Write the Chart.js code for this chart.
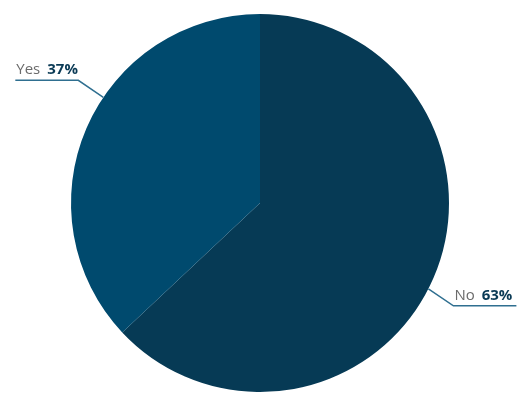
<!DOCTYPE html>
<html>
<head>
<meta charset="utf-8">
<script src="https://cdn.jsdelivr.net/npm/chart.js@4/dist/chart.umd.min.js"></script>
<style>
html,body{margin:0;padding:0;background:#fff;}
#wrap{width:530px;height:407px;position:relative;}
</style>
</head>
<body>
<div id="wrap"><canvas id="c"></canvas></div>
<script>
const categories = ["No", "Yes"];
const values = [63, 37];
const colors = ["#063a55", "#004a6e"];
const labelAngleOffsets = [3.6, 10.6]; // degrees from slice middle toward leader anchor

const leaderPlugin = {
  id: 'leaders',
  afterDraw(chart) {
    const ctx = chart.ctx;
    const meta = chart.getDatasetMeta(0);
    const total = values.reduce((a, b) => a + b, 0);
    meta.data.forEach((arc, i) => {
      const mid = (arc.startAngle + arc.endAngle) / 2 + labelAngleOffsets[i] * Math.PI / 180;
      const r = arc.outerRadius;
      const x0 = arc.x + Math.cos(mid) * r;
      const y0 = arc.y + Math.sin(mid) * r;
      const right = Math.cos(mid) >= 0;
      const dir = right ? 1 : -1;
      const x1 = x0 + dir * 25;
      const y1 = y0 + (Math.sin(mid) >= 0 ? 17 : -17);
      const x2 = x1 + dir * 63;
      ctx.save();
      ctx.strokeStyle = '#2f6f90';
      ctx.lineWidth = 1.5;
      ctx.beginPath();
      ctx.moveTo(x0, y0);
      ctx.lineTo(x1, y1);
      ctx.lineTo(x2, y1);
      ctx.stroke();
      const pct = Math.round(values[i] / total * 100) + '%';
      ctx.textBaseline = 'alphabetic';
      ctx.font = '15px "Open Sans"';
      const w1 = ctx.measureText(categories[i]).width;
      const gap = 7;
      const startX = right ? x1 + 1 : x2 + 1;
      const by = y1 - 6;
      ctx.fillStyle = '#6b6b6b';
      ctx.textAlign = 'left';
      ctx.fillText(categories[i], startX, by);
      ctx.font = 'bold 15px "Open Sans"';
      ctx.fillStyle = '#0a3a55';
      ctx.fillText(pct, startX + w1 + gap, by);
      ctx.restore();
    });
  }
};

new Chart(document.getElementById('c'), {
  type: 'pie',
  data: {
    labels: categories,
    datasets: [{
      data: values,
      backgroundColor: colors,
      borderWidth: 0,
      hoverOffset: 0
    }]
  },
  options: {
    responsive: true,
    maintainAspectRatio: false,
    animation: false,
    events: [],
    layout: { padding: { top: 14, bottom: 15, left: 0, right: 10 } },
    plugins: { legend: { display: false }, tooltip: { enabled: false } }
  },
  plugins: [leaderPlugin]
});
</script>
</body>
</html>
